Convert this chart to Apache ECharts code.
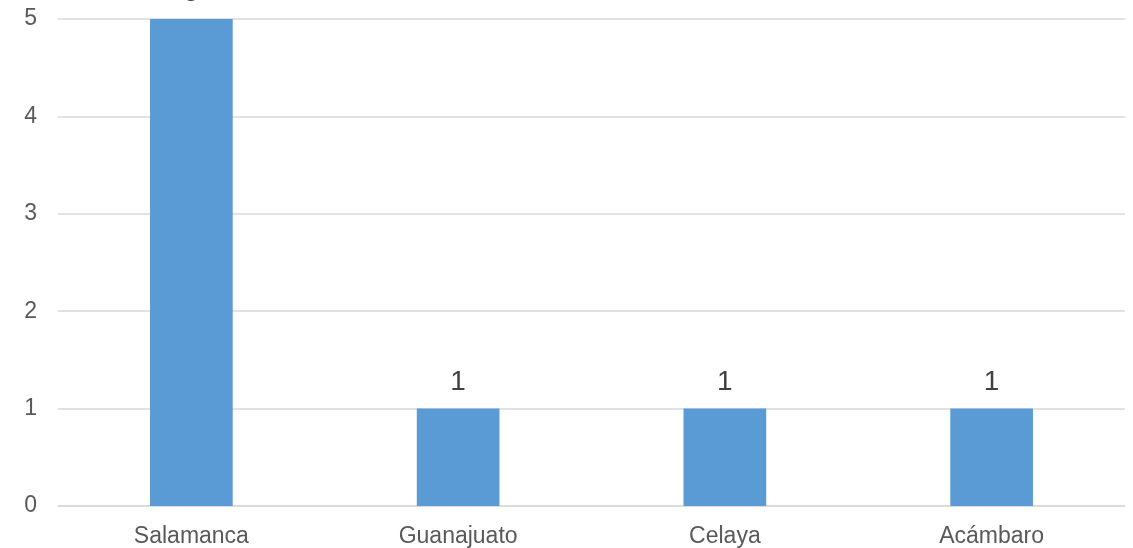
<!DOCTYPE html>
<html>
<head>
<meta charset="utf-8">
<script src="https://cdn.jsdelivr.net/npm/echarts@6/dist/echarts.min.js"></script>
<style>
  html, body { margin: 0; padding: 0; background: #fff; }
  #chart { width: 1133px; height: 548px; }
</style>
</head>
<body>
<div id="chart"></div>
<script>
const cities = ['Salamanca', 'Guanajuato', 'Celaya', 'Acámbaro'];
const counts = [5, 1, 1, 1];

const chart = echarts.init(document.getElementById('chart'));

chart.setOption({
    animation: false,
    textStyle: {
        fontFamily: '"Liberation Sans", Arial, sans-serif',
    },
    grid: {
        left: 58,
        right: 8,
        top: 19,
        bottom: 41,
        containLabel: false,
    },
    xAxis: {
        type: 'category',
        data: cities,
        axisLine: { show: true, lineStyle: { color: '#d9d9d9', width: 1.5 } },
        axisTick: { show: false },
        axisLabel: { color: '#595959', fontSize: 23, margin: 19 },
    },
    yAxis: {
        type: 'value',
        min: 0,
        max: 5,
        interval: 1,
        axisLine: { show: false },
        axisTick: { show: false },
        axisLabel: { color: '#595959', fontSize: 23, margin: 21 },
        splitLine: { lineStyle: { color: '#d9d9d9', width: 1.5 } },
    },
    series: [
        {
            type: 'bar',
            data: counts,
            barWidth: '31%',
            itemStyle: { color: '#5b9bd5' },
            label: {
                show: true,
                position: 'top',
                distance: 12,
                color: '#404040',
                fontSize: 28,
            },
        },
    ],
});

window.addEventListener('resize', chart.resize);
</script>
</body>
</html>
